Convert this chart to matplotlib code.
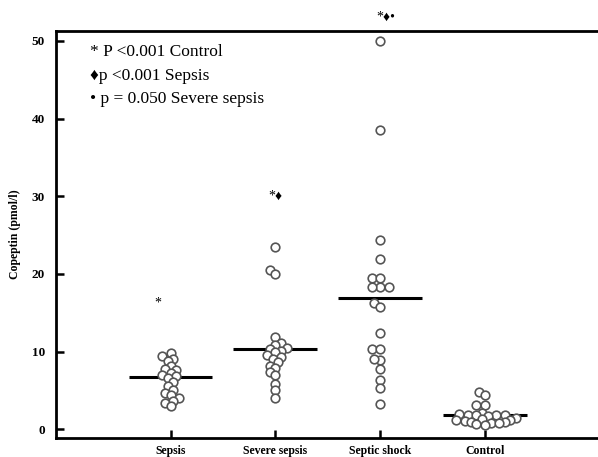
import numpy as np
import matplotlib
matplotlib.use("Agg")
import matplotlib.pyplot as plt

# data (pmol/l)
groups = ["Sepsis", "Severe sepsis", "Septic shock", "Control"]
sepsis = [9.8, 9.4, 9.1, 8.8, 8.1, 7.8, 7.6, 7.3, 7.0, 6.8, 6.6, 6.1, 5.6, 5.1,
          4.7, 4.4, 4.0, 3.7, 3.4, 3.0]
severe_sepsis = [23.5, 20.5, 20.0, 11.9, 11.1, 10.8, 10.5, 10.4, 10.1, 9.9, 9.6,
                 9.3, 9.0, 8.6, 8.2, 7.9, 7.4, 7.0, 5.8, 5.0, 4.0]
septic_shock = [50.0, 38.5, 24.4, 21.9, 19.5, 19.5, 18.3, 18.3, 18.3, 16.2, 15.8,
                12.4, 10.4, 10.4, 8.9, 9.1, 7.8, 6.4, 5.3, 3.3]
control = [4.8, 4.4, 3.1, 3.1, 2.1, 2.0, 1.9, 1.9, 1.8, 1.8, 1.7, 1.4, 1.3, 1.2,
           1.2, 1.1, 1.0, 0.9, 0.8, 0.8, 0.7, 0.6]
medians = [6.7, 10.4, 16.9, 1.8]
yticks = [0, 10, 20, 30, 40, 50]

legend_lines = ["* P <0.001 Control", "\u2666p <0.001 Sepsis", "\u2022 p = 0.050 Severe sepsis"]
marks = ["*", "*\u2666", "*\u2666\u2022"]
mark_y = [16.3, 30.0, 53.0]

plt.rcParams['font.family'] = ['Liberation Serif', 'DejaVu Sans']

fig = plt.figure(figsize=(5.98, 4.57), dpi=100)
ax = fig.add_axes([0.0936, 0.0422, 0.9064, 0.8906])
ax.set_xlim(-1.094, 4.08)
ax.set_ylim(-1.08, 51.3)

# pixel scale of the axes, used to lay out the swarm
p0 = ax.transData.transform((0, 0))
p1 = ax.transData.transform((1, 1))
px_x = p1[0] - p0[0]
px_y = p1[1] - p0[1]

diam = 8.6
dmin = diam * 0.68
step = diam * 0.33


def swarm(vals):
    vals = np.asarray(vals, dtype=float)
    ys = vals * px_y
    cands = np.arange(-15, 16) * step
    cands = cands[np.argsort(np.abs(cands), kind="stable")]
    placed = []
    offs = np.zeros(len(vals))
    for i in np.argsort(vals):
        for c in cands:
            ok = True
            for (px, py) in placed:
                if np.hypot(px - c, py - ys[i]) < dmin:
                    ok = False
                    break
            if ok:
                offs[i] = c
                placed.append((c, ys[i]))
                break
    return offs / px_x


all_vals = [sepsis, severe_sepsis, septic_shock, control]
xpos = np.arange(len(groups))
for x, vals in zip(xpos, all_vals):
    xo = x + swarm(vals)
    ax.scatter(xo, vals, s=diam ** 2 * 0.52, facecolor='white', edgecolor='#555555',
               linewidth=1.2, zorder=3)

ax.hlines(medians, xpos - 0.4, xpos + 0.4, color='black', linewidth=2.2, zorder=2)

# significance marks
ax.text(xpos[0] - 0.12, mark_y[0], marks[0], ha='center', va='center', fontsize=10)
ax.text(xpos[1] + 0.0, mark_y[1], marks[1], ha='center', va='center', fontsize=10)
ax.text(xpos[2] + 0.05, mark_y[2], marks[2], ha='center', va='center', fontsize=10,
        clip_on=False)

for i, line in enumerate(legend_lines):
    ax.text(0.062, 0.947 - i * 0.058, line, transform=ax.transAxes, fontsize=12.5,
            ha='left', va='center')

ax.set_xticks(xpos)
ax.set_xticklabels(groups, fontsize=8.5, fontweight='bold')
ax.set_yticks(yticks)
ax.set_yticklabels([str(t) for t in yticks], fontsize=9.5, fontweight='bold')
ax.tick_params(direction='in', length=6, width=1.8, pad=5)
ax.tick_params(axis='y', pad=8)
ax.set_ylabel("Copeptin (pmol/l)", fontsize=8.5, fontweight='bold', labelpad=8)

ax.spines['right'].set_visible(False)
for s in ['left', 'top', 'bottom']:
    ax.spines[s].set_linewidth(2)

fig.savefig('out.png', dpi=100)
